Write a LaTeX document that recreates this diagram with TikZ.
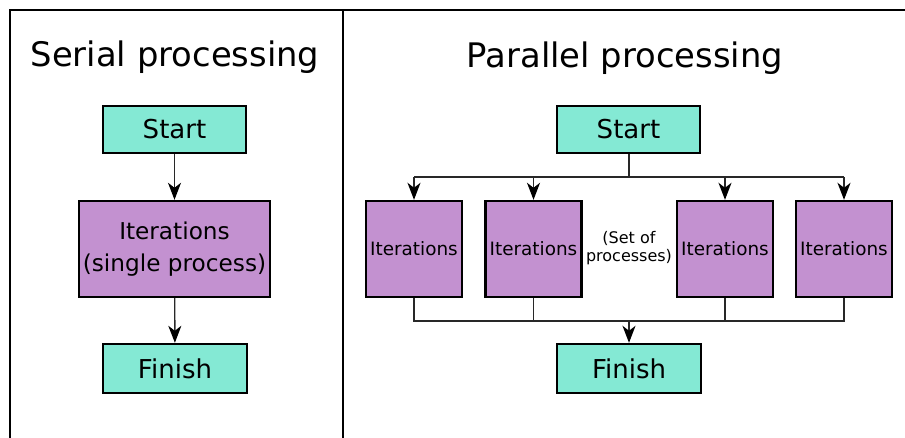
\documentclass[tikz,border=0pt]{standalone}
\usepackage{fontspec}
\setmainfont{DejaVu Sans}
\usetikzlibrary{arrows.meta}
\definecolor{teal1}{RGB}{132,233,212}
\definecolor{purp1}{RGB}{195,145,208}
\definecolor{conn}{RGB}{40,40,40}
\begin{document}
\begin{tikzpicture}[x=1pt,y=-1pt,
  box/.style={draw=black,line width=2.4pt,rectangle,inner sep=0pt,align=center},
  endbox/.style={box,fill=teal1,minimum width=143pt,minimum height=47pt,font=\fontsize{26}{30}\selectfont},
  iterbox/.style={box,fill=purp1,minimum width=96pt,minimum height=96pt,font=\fontsize{18.4}{21}\selectfont},
  title/.style={font=\fontsize{33.8}{38}\selectfont,inner sep=0pt},
  conline/.style={draw=conn,line width=1.4pt},
  arr/.style={conline,-{Stealth[length=17pt,width=13pt,inset=5pt,fill=black,color=black]}}]
\useasboundingbox (0,0) rectangle (905,438);
% frame
\draw[line width=2pt] (10,438) -- (10,10) -- (906,10);
\draw[line width=2pt] (343,10) -- (343,438);
% titles
\node[title] (t1) at (175,57) {Serial processing};
\node[title] (t2) at (625,58) {Parallel processing};
% serial
\node[endbox] (sstart) at (174.5,129.5) {Start};
\node[box,fill=purp1,minimum width=191pt,minimum height=96pt,font=\fontsize{23.2}{32}\selectfont] (siter) at (174.5,249) {Iterations\\(single process)};
\node[endbox,minimum width=144pt,minimum height=49pt] (sfin) at (175,368.5) {Finish};
\draw[arr] (sstart) -- (siter);
\draw[arr] (siter) -- (sfin);
% parallel
\node[endbox] (pstart) at (628.5,129.5) {Start};
\node[iterbox] (i1) at (414,249) {Iterations};
\node[iterbox] (i2) at (533.5,249) {Iterations};
\node[iterbox] (i3) at (725,249) {Iterations};
\node[iterbox] (i4) at (844,249) {Iterations};
\node[align=center,inner sep=0pt,font=\fontsize{16}{17.5}\selectfont] (setp) at (629,248) {(Set of\\processes)};
\node[endbox,minimum width=144pt,minimum height=49pt] (pfin) at (629,368.5) {Finish};
\coordinate (ptop) at (629,177);
\coordinate (pbot) at (629,321);
\draw[conline] (pstart.south -| ptop) -- (ptop);
\draw[conline] (i1 |- ptop) -- (i4 |- ptop);
\foreach \n in {i1,i2,i3,i4} {\draw[arr] (\n |- ptop) -- (\n.north);}
\draw[conline] (i1.south) -- (i1 |- pbot) -- (i4 |- pbot) -- (i4.south);
\draw[conline] (i2.south) -- (i2 |- pbot);
\draw[conline] (i3.south) -- (i3 |- pbot);
\draw[arr] (pbot) -- (pfin.north);
\end{tikzpicture}
\end{document}
